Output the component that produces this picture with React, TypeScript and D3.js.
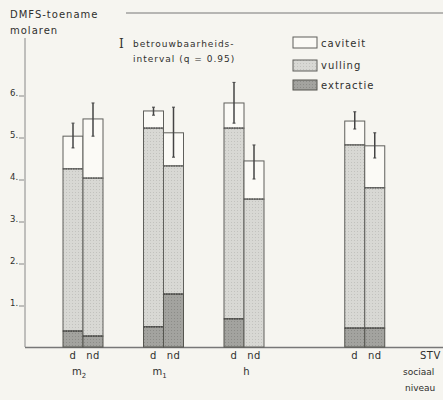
import * as d3 from "d3";
import React from "react";

// groups on the social-level axis
const groups = ["m2", "m1", "h", "STV"];
const groupPos = [0, 1, 2, 3.5];
const subLabels = ["d", "nd"];

// stacked values per bar (d, nd for every group)
const extractie = [0.38, 0.26, 0.48, 1.26, 0.67, 0, 0.45, 0.45];
const vulling = [3.86, 3.76, 4.73, 3.05, 4.54, 3.52, 4.36, 3.34];
const caviteit = [0.78, 1.41, 0.41, 0.79, 0.6, 0.91, 0.57, 1.0];
const errLow = [4.74, 5.02, 5.52, 4.52, 5.33, 4.0, 5.19, 4.5];
const errHigh = [5.33, 5.81, 5.71, 5.71, 6.3, 4.81, 5.6, 5.1];

const yTicks = [1, 2, 3, 4, 5, 6];

const W = 443;
const H = 400;
const bg = "#f6f5f0";
const ink = "#2f2f2d";
const font = "DejaVu Sans, sans-serif";

export default function App() {
  const y = d3.scaleLinear().domain([0, 6]).range([347, 95]);
  const gx = d3.scaleLinear().domain([0, 1]).range([83, 163.5]);
  const barW = 20;

  const bars = d3.range(8).map((i) => {
    const g = Math.floor(i / 2);
    const s = i % 2;
    const x0 = gx(groupPos[g]) + (s === 0 ? -barW : 0);
    const e = extractie[i];
    const v = e + vulling[i];
    const c = v + caviteit[i];
    return { i, x0, e, v, c, lo: errLow[i], hi: errHigh[i] };
  });

  const txt = { fontFamily: font, fontSize: 10, fill: ink, letterSpacing: 1 } as const;

  return (
    <svg width={W} height={H} style={{ position: "absolute", left: 0, top: 0, display: "block", background: bg }}>
      <defs>
        <pattern id="dots" width="3" height="3" patternUnits="userSpaceOnUse">
          <rect width="3" height="3" fill="#d8d8d4" />
          <rect width="1" height="1" fill="#c2c2be" />
        </pattern>
        <pattern id="dots2" width="3" height="3" patternUnits="userSpaceOnUse">
          <rect width="3" height="3" fill="#a3a39f" />
          <rect width="1" height="1" fill="#8c8c88" />
        </pattern>
      </defs>

      {/* title */}
      <text x={10} y={18} {...txt}>DMFS-toename</text>
      <text x={10} y={34} {...txt}>molaren</text>
      <line x1={126} x2={W} y1={13} y2={13} stroke="#777" strokeWidth={1} />

      {/* axes */}
      <line x1={25} x2={25} y1={38} y2={347} stroke="#888" strokeWidth={1} />
      <line x1={25} x2={W} y1={347.5} y2={347.5} stroke="#777" strokeWidth={1.5} />
      {yTicks.map((t) => (
        <g key={t}>
          <text x={10} y={y(t) + 1} {...txt} fontSize={8.5} letterSpacing={0}>{t + "."}</text>
          <line x1={19} x2={24} y1={y(t) + 1} y2={y(t) + 1} stroke="#888" />
        </g>
      ))}

      {/* bars */}
      {bars.map((b) => (
        <g key={b.i}>
          <rect x={b.x0} y={y(b.c)} width={barW} height={y(b.v) - y(b.c)} fill="#fbfaf6" stroke="#5f5f5b" strokeWidth={1} />
          <rect x={b.x0} y={y(b.v)} width={barW} height={y(b.e) - y(b.v)} fill="url(#dots)" stroke="#5f5f5b" strokeWidth={1} />
          {b.e > 0 && (
            <rect x={b.x0} y={y(b.e)} width={barW} height={y(0) - y(b.e)} fill="url(#dots2)" stroke="#55554f" strokeWidth={1} />
          )}
          <line x1={b.x0} x2={b.x0 + barW} y1={y(b.v)} y2={y(b.v)} stroke="#555" strokeWidth={1.2} strokeDasharray="1.5,1" />
          {b.e > 0 && (
            <line x1={b.x0} x2={b.x0 + barW} y1={y(b.e)} y2={y(b.e)} stroke="#444" strokeWidth={1.2} strokeDasharray="1.5,1" />
          )}
          <line x1={b.x0 + barW / 2} x2={b.x0 + barW / 2} y1={y(b.hi)} y2={y(b.lo)} stroke="#444" strokeWidth={1.5} />
          <line x1={b.x0 + barW / 2 - 1.5} x2={b.x0 + barW / 2 + 1.5} y1={y(b.hi)} y2={y(b.hi)} stroke="#444" strokeWidth={1} />
          <line x1={b.x0 + barW / 2 - 1.5} x2={b.x0 + barW / 2 + 1.5} y1={y(b.lo)} y2={y(b.lo)} stroke="#444" strokeWidth={1} />
        </g>
      ))}

      {/* x labels */}
      {groups.map((g, gi) => (
        <g key={g}>
          {subLabels.map((s, si) => (
            <text key={s} x={gx(groupPos[gi]) + (si === 0 ? -10 : 10)} y={359} textAnchor="middle" {...txt} letterSpacing={0.5}>{s}</text>
          ))}
        </g>
      ))}
      <text x={gx(0) - 4} y={375} textAnchor="middle" {...txt} letterSpacing={0}>m<tspan fontSize={7} dy={3}>2</tspan></text>
      <text x={gx(1) - 4} y={375} textAnchor="middle" {...txt} letterSpacing={0}>m<tspan fontSize={7} dy={3}>1</tspan></text>
      <text x={gx(2) + 3} y={375} textAnchor="middle" {...txt}>h</text>
      <text x={420} y={359} {...txt} letterSpacing={0.5}>STV</text>
      <text x={403} y={375} {...txt} fontSize={9} letterSpacing={0}>sociaal</text>
      <text x={405} y={391} {...txt} fontSize={9} letterSpacing={0}>niveau</text>

      {/* legend */}
      <text x={119} y={48} fontFamily="DejaVu Serif, serif" fontSize={12} fill={ink}>I</text>
      <text x={133} y={47} {...txt} fontSize={9}>betrouwbaarheids-</text>
      <text x={133} y={62} {...txt} fontSize={9}>interval  (q = 0.95)</text>
      <rect x={293} y={37} width={24} height={11} fill="#fbfaf6" stroke="#5f5f5b" />
      <text x={321} y={47} {...txt}>caviteit</text>
      <rect x={293} y={60} width={24} height={11} fill="url(#dots)" stroke="#5f5f5b" />
      <text x={321} y={69} {...txt}>vulling</text>
      <rect x={293} y={80} width={24} height={10} fill="url(#dots2)" stroke="#55554f" />
      <text x={321} y={89} {...txt}>extractie</text>
    </svg>
  );
}
